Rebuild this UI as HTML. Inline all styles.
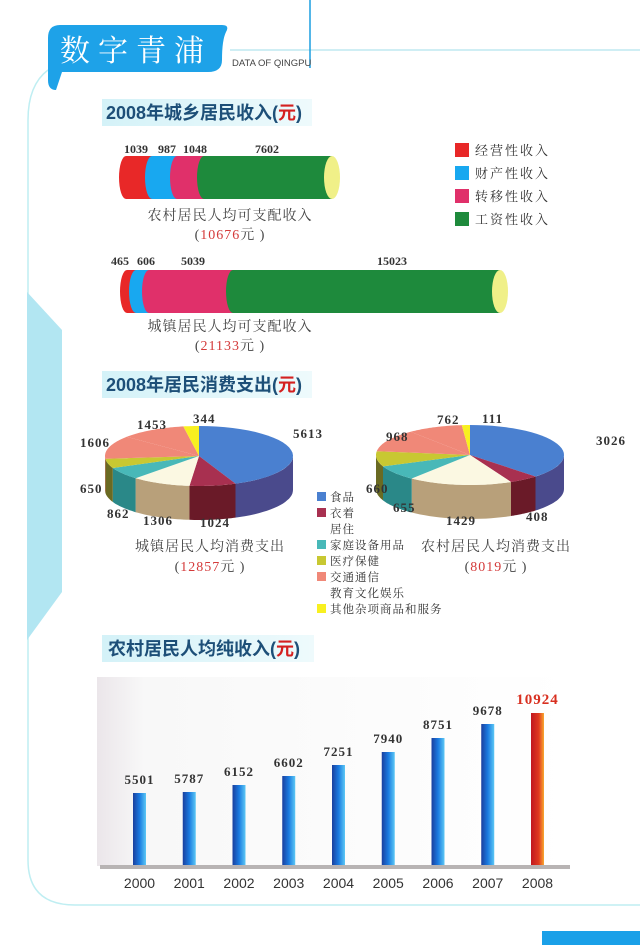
<!DOCTYPE html>
<html><head><meta charset="utf-8"><style>
body{margin:0;background:#fff;}
svg{display:block;}
.t{font-family:"Liberation Sans","Noto Sans CJK SC",sans-serif;font-weight:bold;font-size:18px;fill:#1d4f78;}
.n{font-family:"Liberation Serif",serif;font-weight:bold;font-size:12px;fill:#333;}
.p{font-family:"Liberation Serif",serif;font-weight:bold;font-size:13px;fill:#333;letter-spacing:1px;}
.c{font-family:"Liberation Serif","Noto Serif CJK SC",serif;font-size:14px;fill:#444;letter-spacing:1px;}
.lg{font-family:"Liberation Serif","Noto Serif CJK SC",serif;font-size:13px;fill:#333;letter-spacing:2px;}
.ls{font-family:"Liberation Serif","Noto Serif CJK SC",serif;font-size:11.5px;fill:#333;letter-spacing:1px;}
.y{font-family:"Liberation Sans",sans-serif;font-size:14px;fill:#333;}
</style></head><body>
<svg id="s" width="640" height="947" xmlns="http://www.w3.org/2000/svg">
<defs>
<linearGradient id="bb" x1="0" x2="1"><stop offset="0" stop-color="#1a3f9e"/><stop offset="0.5" stop-color="#1a7ae0"/><stop offset="1" stop-color="#5cc8f5"/></linearGradient>
<linearGradient id="rb" x1="0" x2="1"><stop offset="0" stop-color="#c01820"/><stop offset="0.6" stop-color="#e03a20"/><stop offset="1" stop-color="#f8a830"/></linearGradient>
<linearGradient id="bg" x1="0" x2="1"><stop offset="0" stop-color="#ebe6ea"/><stop offset="0.1" stop-color="#f8f8f8"/><stop offset="1" stop-color="#fff"/></linearGradient>
<linearGradient id="th" x1="0" x2="1"><stop offset="0" stop-color="#d4f2f8"/><stop offset="1" stop-color="#eefafc"/></linearGradient>
</defs>
<path d="M640 50 L230 50" stroke="#bfe8f0" stroke-width="1.5" fill="none"/>
<path d="M48 70 Q28 85 28 120 L28 860 Q28 905 75 905 L640 905" stroke="#bfeef2" stroke-width="1.5" fill="none"/>
<polygon points="27,292 62,330 62,592 27,640" fill="#b2e6f2"/>
<line x1="310" y1="0" x2="310" y2="68" stroke="#1a9ee0" stroke-width="1.5"/>
<path d="M60 25 L222 25 Q230 25 226 32 Q222 40 222 60 Q222 72 208 72 L62 72 L56 90 Q48 90 48 80 L48 38 Q48 25 60 25Z" fill="#1ea2e8"/>
<text x="60" y="61" font-family="Noto Serif CJK SC,serif" font-size="30" fill="#fff" letter-spacing="8">数字青浦</text>
<text x="232" y="66" font-family="Liberation Sans,sans-serif" font-size="9.5" fill="#444">DATA OF QINGPU</text>
<rect x="102" y="99" width="210" height="27" fill="url(#th)"/>
<text class="t" x="106" y="119">2008年城乡居民收入(<tspan fill="#d42020">元</tspan>)</text>
<rect x="102" y="371" width="210" height="27" fill="url(#th)"/>
<text class="t" x="106" y="391">2008年居民消费支出(<tspan fill="#d42020">元</tspan>)</text>
<rect x="102" y="635" width="212" height="27" fill="url(#th)"/>
<text class="t" x="108" y="655">农村居民人均纯收入(<tspan fill="#d42020">元</tspan>)</text>
<g id="bars1"></g>
<text class="n" x="124" y="153">1039</text><text class="n" x="158" y="153">987</text><text class="n" x="183" y="153">1048</text><text class="n" x="255" y="153">7602</text>
<text class="c" x="230" y="220" text-anchor="middle">农村居民人均可支配收入</text>
<text class="c" x="230" y="239" text-anchor="middle">(<tspan fill="#d43a3a">10676</tspan>元 )</text>
<text class="n" x="111" y="265">465</text><text class="n" x="137" y="265">606</text><text class="n" x="181" y="265">5039</text><text class="n" x="377" y="265">15023</text>
<text class="c" x="230" y="331" text-anchor="middle">城镇居民人均可支配收入</text>
<text class="c" x="230" y="350" text-anchor="middle">(<tspan fill="#d43a3a">21133</tspan>元 )</text>
<rect x="455" y="143" width="14" height="14" fill="#e82828"/><text class="lg" x="475" y="155">经营性收入</text>
<rect x="455" y="166" width="14" height="14" fill="#18a8f0"/><text class="lg" x="475" y="178">财产性收入</text>
<rect x="455" y="189" width="14" height="14" fill="#e0306a"/><text class="lg" x="475" y="201">转移性收入</text>
<rect x="455" y="212" width="14" height="14" fill="#1e8a3c"/><text class="lg" x="475" y="224">工资性收入</text>
<g id="pies"></g>
<text class="p" x="137" y="429">1453</text><text class="p" x="193" y="423">344</text><text class="p" x="293" y="438">5613</text>
<text class="p" x="80" y="447">1606</text><text class="p" x="80" y="493">650</text><text class="p" x="107" y="518">862</text>
<text class="p" x="143" y="525">1306</text><text class="p" x="200" y="527">1024</text>
<text class="p" x="437" y="424">762</text><text class="p" x="482" y="423">111</text><text class="p" x="596" y="445">3026</text>
<text class="p" x="386" y="441">968</text><text class="p" x="366" y="493">660</text><text class="p" x="393" y="512">655</text>
<text class="p" x="446" y="525">1429</text><text class="p" x="526" y="521">408</text>
<text class="c" x="210" y="551" text-anchor="middle">城镇居民人均消费支出</text>
<text class="c" x="210" y="571" text-anchor="middle">(<tspan fill="#d43a3a">12857</tspan>元 )</text>
<text class="c" x="496" y="551" text-anchor="middle">农村居民人均消费支出</text>
<text class="c" x="496" y="571" text-anchor="middle">(<tspan fill="#d43a3a">8019</tspan>元 )</text>
<rect x="317" y="492" width="9" height="9" fill="#4a80d0"/><text class="ls" x="330" y="501">食品</text>
<rect x="317" y="508" width="9" height="9" fill="#a83050"/><text class="ls" x="330" y="517">衣着</text>
<text class="ls" x="330" y="533">居住</text>
<rect x="317" y="540" width="9" height="9" fill="#48b8b8"/><text class="ls" x="330" y="549">家庭设备用品</text>
<rect x="317" y="556" width="9" height="9" fill="#c8c832"/><text class="ls" x="330" y="565">医疗保健</text>
<rect x="317" y="572" width="9" height="9" fill="#f08878"/><text class="ls" x="330" y="581">交通通信</text>
<text class="ls" x="330" y="597">教育文化娱乐</text>
<rect x="317" y="604" width="9" height="9" fill="#f8f020"/><text class="ls" x="330" y="613">其他杂项商品和服务</text>
<rect x="97" y="677" width="473" height="189" fill="url(#bg)"/>
<rect x="100" y="865" width="470" height="4" fill="#b8b4b4"/>
<g id="bc"></g>
<rect x="542" y="931" width="98" height="14" fill="#1aa0e8"/>
</svg>
<script>
(function(){
var NS="http://www.w3.org/2000/svg";
function el(p,t,a,txt){var e=document.createElementNS(NS,t);for(var k in a)e.setAttribute(k,a[k]);if(txt)e.textContent=txt;p.appendChild(e);return e;}
var g=document.getElementById("bars1");
function cyl(y,h,segs,end){var ry=h/2,rx=7;
 for(var i=0;i<segs.length;i++){var s=segs[i],x2=(i<segs.length-1)?segs[i+1][0]+2:end;
  el(g,"path",{d:"M"+s[0]+" "+y+" L"+x2+" "+y+" L"+x2+" "+(y+h)+" L"+s[0]+" "+(y+h)+" A"+rx+" "+ry+" 0 0 1 "+s[0]+" "+y+"Z",fill:s[1]});}
 el(g,"ellipse",{cx:end,cy:y+ry,rx:8,ry:ry,fill:"#f0f088"});}
cyl(156,43,[[126,"#e82828"],[152,"#18a8f0"],[177,"#e0306a"],[204,"#1e8a3c"]],332);
cyl(270,43,[[127,"#e82828"],[136,"#18a8f0"],[149,"#e0306a"],[233,"#1e8a3c"]],500);
var pg=document.getElementById("pies");
var cols=[["#4a80d0","#4a4a8c"],["#a83050","#6a1a28"],["#fbf8e2","#b8a07a"],["#48b8b8","#2a8888"],["#c8c832","#6a6a22"],["#f08878","#c86050"],["#f08878","#c86050"],["#f8f020","#c0b010"]];
function pie(cx,cy,rx,ry,d,vals){var tot=vals.reduce(function(a,b){return a+b},0);
 var a=-Math.PI/2,ang=[];for(var i=0;i<vals.length;i++){var b=a+vals[i]/tot*2*Math.PI;ang.push([a,b]);a=b;}
 function P(t,dy){return (cx+rx*Math.cos(t)).toFixed(1)+" "+(cy+ry*Math.sin(t)+dy).toFixed(1);}
 for(var i=0;i<ang.length;i++){var a1=Math.max(ang[i][0],0),a2=Math.min(ang[i][1],Math.PI);if(a2<=a1)continue;
   var s="M"+P(a1,0);var n=20;for(var k=1;k<=n;k++)s+=" L"+P(a1+(a2-a1)*k/n,0);
   for(var k=n;k>=0;k--)s+=" L"+P(a1+(a2-a1)*k/n,d);el(pg,"path",{d:s+"Z",fill:cols[i][1]});}
 for(var i=0;i<ang.length;i++){var a1=ang[i][0],a2=ang[i][1];var s="M"+cx+" "+cy+" L"+P(a1,0);var n=30;
  for(var k=1;k<=n;k++)s+=" L"+P(a1+(a2-a1)*k/n,0);el(pg,"path",{d:s+"Z",fill:cols[i][0]});}}
pie(199,456,94,30,34,[5613,1024,1306,862,650,1606,1453,344]);
pie(470,455,94,30,34,[3026,408,1429,655,660,968,762,111]);
var bc=document.getElementById("bc");
var vals=[5501,5787,6152,6602,7251,7940,8751,9678,10924];
var tops=[793,792,785,776,765,752,738,724,713];
for(var i=0;i<9;i++){var x=139.5+i*49.75,ty=tops[i];
 el(bc,"rect",{x:x-6.5,y:ty,width:13,height:865-ty,fill:i==8?"url(#rb)":"url(#bb)"});
 var t=el(bc,"text",{x:x,y:ty-9,"text-anchor":"middle","class":"p"},String(vals[i]));
 if(i==8)t.setAttribute("style","fill:#d83020;font-size:15px");
 el(bc,"text",{x:x,y:888,"text-anchor":"middle","class":"y"},String(2000+i));}
})();
</script>
</body></html>
